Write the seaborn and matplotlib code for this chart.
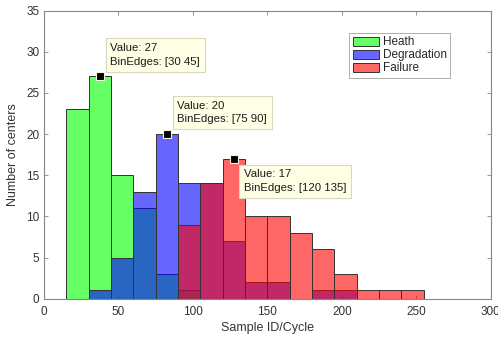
import numpy as np
import pandas as pd
import matplotlib
matplotlib.use("Agg")
import matplotlib.pyplot as plt
import seaborn as sns

# Histogram counts per 15-cycle bin for each health state
bin_width = 15
heath_start = 15
heath_counts = [23, 27, 15, 11, 3, 1]
degradation_start = 30
degradation_counts = [1, 5, 13, 20, 14, 14, 7, 2, 2, 0, 1, 1]
failure_start = 90
failure_counts = [9, 14, 17, 10, 10, 8, 6, 3, 1, 1, 1]

series_names = ["Heath", "Degradation", "Failure"]
series_colors = ["#00ff00", "#0000ff", "#ff0000"]

# Annotated bins: (series index, bin index)
tips = [(0, 1), (1, 3), (2, 2)]

sns.set_theme(style="white")
plt.rcParams["font.family"] = ["Liberation Sans", "DejaVu Sans"]

fig = plt.figure(figsize=(4.98, 3.39), dpi=100)
ax = fig.add_axes([0.0884, 0.119, 0.897, 0.8496])

starts = [heath_start, degradation_start, failure_start]
counts = [heath_counts, degradation_counts, failure_counts]
all_edges = []
for name, color, s, c in zip(series_names, series_colors, starts, counts):
    edges = s + bin_width * np.arange(len(c) + 1)
    centers = edges[:-1] + bin_width / 2
    all_edges.append(edges)
    df = pd.DataFrame({"cycle": centers, "n": c})
    sns.histplot(data=df, x="cycle", weights="n", bins=list(edges),
                 color=color, alpha=0.6, edgecolor="#333333", linewidth=0.7,
                 label=name, ax=ax, stat="count", element="bars")

for si, bi in tips:
    edges = all_edges[si]
    val = counts[si][bi]
    cx = (edges[bi] + edges[bi + 1]) / 2
    ax.plot(cx, val, marker="s", color="black", markersize=5.5,
            markeredgecolor="#f5f5dc", markeredgewidth=0.8, zorder=7)
    txt = f"Value: {val}\nBinEdges: [{int(edges[bi])} {int(edges[bi + 1])}]"
    if si == 2:
        xy_off, va = (7.3, -7.6), "top"
    else:
        xy_off, va = (7.6, 7.0), "bottom"
    ax.annotate(txt, (cx, val), xytext=xy_off, textcoords="offset points",
                ha="left", va=va, fontsize=8.2, color="#1a1a1a",
                linespacing=1.45, zorder=6,
                bbox=dict(boxstyle="square,pad=0.42", fc="#ffffe6",
                          ec="#d8d8c0", lw=0.8))

ax.set_xlim(0, 300)
ax.set_ylim(0, 35)
ax.set_xticks(np.arange(0, 301, 50))
ax.set_yticks(np.arange(0, 36, 5))
ax.set_xlabel("Sample ID/Cycle", fontsize=9, color="#333333", labelpad=3)
ax.set_ylabel("Number of centers", fontsize=9, color="#333333", labelpad=5)
ax.tick_params(direction="in", length=3.2, width=0.6, colors="#888888",
               labelcolor="#333333", labelsize=8.5, top=True, right=True,
               bottom=True, left=True)
ax.tick_params(axis="x", pad=5)
ax.tick_params(axis="y", pad=3.5)
for sp in ax.spines.values():
    sp.set_color("#888888")
    sp.set_linewidth(0.8)

leg = ax.legend(loc="upper right", bbox_to_anchor=(0.909, 0.923), fontsize=8.5,
                frameon=True, fancybox=False, edgecolor="#999999",
                handlelength=2.2, handleheight=0.8, handletextpad=0.3,
                borderpad=0.3, labelspacing=0.08, borderaxespad=0)
leg.get_frame().set_linewidth(0.7)

fig.savefig("out.png", dpi=100)
